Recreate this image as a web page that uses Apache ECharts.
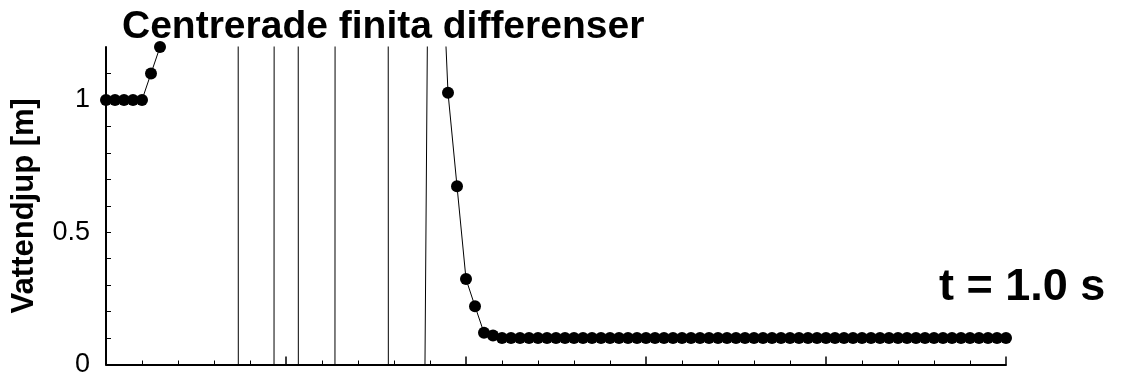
<!DOCTYPE html>
<html>
<head>
<meta charset="utf-8">
<script src="https://cdn.jsdelivr.net/npm/echarts@6/dist/echarts.min.js"></script>
<style>
html,body{margin:0;padding:0;background:#fff;}
#c{width:1126px;height:378px;}
</style>
</head>
<body>
<div id="c"></div>
<script>
// Water depth at each grid node (node index 0..100)
var depth = [
  1, 1, 1, 1, 1, 1.1, 1.2,
  4.5, 12, 25, 40, 55, 68, 74, 70,
  -30, -85, -110, -67,
  33, 80, 37,
  -63, -95, -90, -44,
  56, 90, 105, 95, 70, 37,
  -63, -60, -30, -2.03,
  2.57, 1.81,
  1.027, 0.674, 0.323, 0.22, 0.12, 0.11,
  0.1, 0.1, 0.1, 0.1, 0.1, 0.1, 0.1, 0.1, 0.1, 0.1,
  0.1, 0.1, 0.1, 0.1, 0.1, 0.1, 0.1, 0.1, 0.1, 0.1,
  0.1, 0.1, 0.1, 0.1, 0.1, 0.1, 0.1, 0.1, 0.1, 0.1,
  0.1, 0.1, 0.1, 0.1, 0.1, 0.1, 0.1, 0.1, 0.1, 0.1,
  0.1, 0.1, 0.1, 0.1, 0.1, 0.1, 0.1, 0.1, 0.1, 0.1,
  0.1, 0.1, 0.1, 0.1, 0.1, 0.1, 0.1
];
var yTickLabels = ['0', '0.5', '1'];
var titleText = 'Centrerade finita differenser';
var yName = 'Vattendjup [m]';
var timeText = 't = 1.0 s';

var points = depth.map(function (d, i) { return [i, d]; });

var chart = echarts.init(document.getElementById('c'), null, {renderer: 'canvas'});
var FONT = '"Liberation Sans", Arial, sans-serif';
chart.setOption({
  animation: false,
  backgroundColor: '#ffffff',
  title: {
    text: titleText,
    left: 122,
    top: 8,
    padding: 0,
    textStyle: {fontFamily: FONT, fontSize: 39, fontWeight: 'bold', color: '#000'}
  },
  graphic: [{
    type: 'text',
    left: 939,
    top: 265,
    style: {text: timeText, fontFamily: FONT, fontSize: 45, fontWeight: 'bold', fill: '#000'}
  }],
  grid: {left: 106, right: 120, top: 47, bottom: 12, containLabel: false},
  xAxis: {
    type: 'value', min: 0, max: 100, interval: 20,
    axisLine: {show: true, lineStyle: {color: '#000', width: 2}},
    axisTick: {show: true, inside: true, length: 8, lineStyle: {color: '#000', width: 1.5}},
    minorTick: {show: true, splitNumber: 5, length: 4, lineStyle: {color: '#000', width: 1}},
    axisLabel: {show: false},
    splitLine: {show: false}
  },
  yAxis: {
    type: 'value', min: 0, max: 1.2, interval: 0.1,
    name: yName, nameLocation: 'middle', nameGap: 66, nameRotate: 90,
    nameTextStyle: {fontFamily: FONT, fontSize: 31, fontWeight: 'bold', color: '#000'},
    axisLine: {show: true, lineStyle: {color: '#000', width: 2}},
    axisTick: {show: true, inside: true, length: 5, lineStyle: {color: '#000', width: 1}},
    axisLabel: {
      fontFamily: FONT, fontSize: 27, color: '#000', margin: 16,
      showMaxLabel: false,
      formatter: function (v) {
        if (Math.abs(v) < 1e-6) return yTickLabels[0];
        if (Math.abs(v - 0.5) < 1e-6) return yTickLabels[1];
        if (Math.abs(v - 1) < 1e-6) return yTickLabels[2];
        return '';
      }
    },
    splitLine: {show: false}
  },
  series: [{
    type: 'line',
    data: points,
    clip: true,
    symbol: 'circle',
    symbolSize: 12,
    showAllSymbol: true,
    itemStyle: {color: '#000'},
    lineStyle: {color: '#000', width: 1}
  }]
});
</script>
</body>
</html>
